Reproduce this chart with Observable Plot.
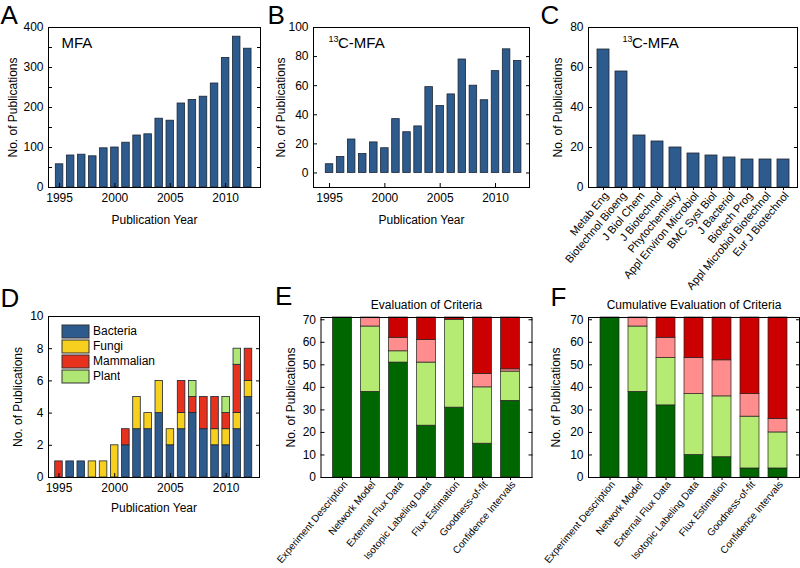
<!DOCTYPE html>
<html><head><meta charset="utf-8">
<script src="https://cdn.jsdelivr.net/npm/d3@7"></script>
<script src="https://cdn.jsdelivr.net/npm/@observablehq/plot@0.6"></script>
<style>
body{margin:0;background:#fff;}
#root{position:relative;width:800px;height:568px;overflow:hidden;font-family:Arial,"Liberation Sans",sans-serif;}
#root > *{position:absolute;}
.legd-swatch{padding-bottom:2px !important;line-height:13px !important;margin:0 !important;}
.legd-swatch > svg{margin-right:4px !important;}
.legd-swatch svg rect{stroke:#333;stroke-width:1px;}
</style></head><body><div id="root"></div>
<script>
// ---- data ----
const years = [1995,1996,1997,1998,1999,2000,2001,2002,2003,2004,2005,2006,2007,2008,2009,2010,2011,2012];
const yearTicks = [1995,2000,2005,2010];
const mfaCounts = [58,80,82,78,98,100,112,130,133,172,167,210,219,227,260,324,377,347];
const c13Counts = [6,11,23,13,21,17,37,28,32,59,46,54,78,60,50,70,85,77];
const journals = ["Metab Eng","Biotechnol Bioeng","J Biol Chem","J Biotechnol","Phytochemistry","Appl Environ Microbiol","BMC Syst Biol","J Bacteriol","Biotech Prog","Appl Microbiol Biotechnol","Eur J Biotechnol"];
const journalCounts = [69,58,26,23,20,17,16,15,14,14,14];
const organisms = ["Bacteria","Fungi","Mammalian","Plant"];
const bacteria  = [0,1,1,0,0,0,2,3,3,4,2,3,4,3,2,2,3,5];
const fungi     = [0,0,0,1,1,2,0,2,1,2,1,1,0,0,1,1,1,1];
const mammalian = [1,0,0,0,0,0,1,0,0,0,0,2,1,2,2,1,3,2];
const plant     = [0,0,0,0,0,0,0,0,0,0,0,0,1,0,0,1,1,0];
const criteria = ["Experiment Description","Network Model","External Flux Data","Isotopic Labeling Data","Flux Estimation","Goodness-of-fit","Confidence Intervals"];
const levels = ["Level 1","Level 2","Level 3","Level 4"];
const evalL1 = [71,38,51,23,31,15,34];
const evalL2 = [0,29,5,28,39,25,13];
const evalL3 = [0,4,6,10,0,6,1];
const evalL4 = [0,0,9,10,1,25,23];
const cumL1 = [71,38,32,10,9,4,4];
const cumL2 = [0,29,21,27,27,23,16];
const cumL3 = [0,4,9,16,16,10,6];
const cumL4 = [0,0,9,18,19,34,45];

// ---- styles ----
const BLUE = "#2e5b8d", EDGE = "#1c2633";
const orgColors = ["#2e5b8d","#f7cf1f","#e6311d","#b0e673"];
const levelColors = ["#006600","#b5eb72","#ff8d8d","#cc0000"];
const baseStyle = {fontFamily:"Arial, 'Liberation Sans', sans-serif", fontSize:"12px", color:"#000", background:"transparent", overflow:"visible"};
const root = document.getElementById("root");
function place(node, left, top){ node.style.left = left+"px"; node.style.top = top+"px"; root.append(node); }

function yAxisMarks(major, all, offset){
  return [
    Plot.axisY({anchor:"left", ticks:major, tickSize:0, tickPadding:5, label:null, tickFormat:d=>String(d)}),
    Plot.axisY({anchor:"left", ticks:all, tickSize:4, dx:4, tickFormat:()=>"", label:null}),
    Plot.axisY({anchor:"right", ticks:all, tickSize:4, dx:-4, tickFormat:()=>"", label:null}),
    Plot.text(["No. of Publications"], {text:d=>d, frameAnchor:"left", dx:offset, rotate:-90, lineAnchor:"middle", textAnchor:"middle", fontSize:12})
  ];
}
function yearAxisMarks(offset){
  return [
    Plot.axisX({anchor:"bottom", ticks:yearTicks, tickSize:0, tickPadding:6, tickFormat:d=>String(d), label:null}),
    Plot.axisX({anchor:"bottom", ticks:yearTicks, tickSize:4, dy:-4, tickFormat:()=>"", label:null}),
    Plot.text(["Publication Year"], {text:d=>d, frameAnchor:"bottom", dy:offset, lineAnchor:"middle", textAnchor:"middle", fontSize:12})
  ];
}
function catAxisMarks(fontSize, pad){
  return [
    Plot.axisX({anchor:"bottom", tickSize:3, tickFormat:()=>"", label:null}),
    Plot.axisX({anchor:"bottom", tickSize:0, tickPadding:pad, dx:3, tickRotate:-50, fontSize, label:null})
  ];
}
function letter(ch, dx, dy){
  return Plot.text([ch], {text:d=>d, frameAnchor:"top-left", dx, dy, textAnchor:"start", lineAnchor:"top", fontSize:26});
}
function c13Label(dx){
  return [
    Plot.text(["13"], {text:d=>d, frameAnchor:"top-left", dx, dy:8, textAnchor:"start", lineAnchor:"top", fontSize:9}),
    Plot.text(["C-MFA"], {text:d=>d, frameAnchor:"top-left", dx:dx+9.5, dy:10, textAnchor:"start", lineAnchor:"top", fontSize:15})
  ];
}

// ---- A ----
const dataA = years.map((year,i)=>({year, n:mfaCounts[i]}));
place(Plot.plot({
  width:265, height:250, marginLeft:48, marginRight:5, marginTop:27, marginBottom:63,
  style:baseStyle,
  x:{domain:[1994.0, 2013.15]},
  y:{domain:[0,400]},
  marks:[
    Plot.rectY(dataA, {x1:d=>d.year-0.34, x2:d=>d.year+0.34, y:"n", fill:BLUE, stroke:EDGE, strokeWidth:0.8}),
    ...yAxisMarks([0,100,200,300,400],[0,50,100,150,200,250,300,350,400],-35),
    ...yearAxisMarks(33),
    Plot.frame({stroke:"#000"}),
    letter("A",-48,-21.5),
    Plot.text(["MFA"], {text:d=>d, frameAnchor:"top-left", dx:13, dy:10, textAnchor:"start", lineAnchor:"top", fontSize:15})
  ]
}), 0, 0);

// ---- B ----
const dataB = years.map((year,i)=>({year, n:c13Counts[i]}));
place(Plot.plot({
  width:270, height:250, marginLeft:48, marginRight:6, marginTop:27, marginBottom:63,
  style:baseStyle,
  x:{domain:[1993.55, 2013.07]},
  y:{domain:[-10,100]},
  marks:[
    Plot.rectY(dataB, {x1:d=>d.year-0.34, x2:d=>d.year+0.34, y:"n", fill:BLUE, stroke:EDGE, strokeWidth:0.8}),
    ...yAxisMarks([0,20,40,60,80,100],[0,20,40,60,80,100],-32),
    ...yearAxisMarks(33),
    Plot.frame({stroke:"#000"}),
    letter("B",-46,-21.5),
    ...c13Label(15)
  ]
}), 265, 0);

// ---- C ----
const dataC = journals.map((journal,i)=>({journal, n:journalCounts[i]}));
place(Plot.plot({
  width:265, height:290, marginLeft:53, marginRight:3, marginTop:27, marginBottom:103,
  style:baseStyle,
  x:{domain:journals, paddingInner:0.36, paddingOuter:0.37},
  y:{domain:[0,80]},
  marks:[
    Plot.barY(dataC, {x:"journal", y:"n", fill:BLUE, stroke:EDGE, strokeWidth:0.8}),
    ...yAxisMarks([0,20,40,60,80],[0,20,40,60,80],-30),
    ...catAxisMarks(11, 6),
    Plot.frame({stroke:"#000"}),
    letter("C",-48,-21.5),
    ...c13Label(34)
  ]
}), 535, 0);

// ---- D ----
const orgSeries = [bacteria, fungi, mammalian, plant];
const dataD = [];
years.forEach((year,i)=>organisms.forEach((org,k)=>{ if (orgSeries[k][i] > 0) dataD.push({year, org, n:orgSeries[k][i]}); }));
place(Plot.plot({
  width:265, height:318, marginLeft:48, marginRight:6, marginTop:66, marginBottom:91,
  style:baseStyle,
  x:{domain:[1994.06, 2012.99]},
  y:{domain:[0,10]},
  color:{domain:organisms, range:orgColors},
  marks:[
    Plot.rectY(dataD, {x1:d=>d.year-0.34, x2:d=>d.year+0.34, y:"n", fill:"org", stroke:EDGE, strokeWidth:0.8}),
    ...yAxisMarks([0,2,4,6,8,10],[0,2,4,6,8,10],-30),
    ...yearAxisMarks(31),
    Plot.frame({stroke:"#000"}),
    letter("D",-48,-27.5)
  ]
}), 0, 250);
const leg = Plot.legend({color:{type:"ordinal", domain:organisms, range:orgColors}, legend:"swatches", columns:1, swatchWidth:27, swatchHeight:13, className:"legd", style:{fontFamily:"Arial, 'Liberation Sans', sans-serif", fontSize:"12px", color:"#000"}});
place(leg, 62, 325);

// ---- E & F ----
function stackData(s1,s2,s3,s4){
  const series = [s1,s2,s3,s4];
  const out = [];
  criteria.forEach((crit,i)=>levels.forEach((lev,k)=>{ if (series[k][i] > 0) out.push({crit, lev, n:series[k][i]}); }));
  return out;
}
function evalPlot(data, title, letterCh, ldx, ldy, yoff){
  return Plot.plot({
    width:265, height:318, marginLeft:53, marginRight:1, marginTop:67, marginBottom:91,
    style:baseStyle,
    x:{domain:criteria, paddingInner:0.33, paddingOuter:0.39},
    y:{domain:[0,71]},
    color:{domain:levels, range:levelColors},
    marks:[
      Plot.barY(data, {x:"crit", y:"n", fill:"lev", stroke:"#222", strokeWidth:0.7}),
      ...yAxisMarks([0,10,20,30,40,50,60,70],[0,10,20,30,40,50,60,70],yoff),
      ...catAxisMarks(10, 5),
      Plot.frame({stroke:"#000"}),
      Plot.text([title], {text:d=>d, frameAnchor:"top", dy:-12, lineAnchor:"middle", textAnchor:"middle", fontSize:12}),
      letter(letterCh, ldx, ldy)
    ]
  });
}
const pE = evalPlot(stackData(evalL1,evalL2,evalL3,evalL4), "Evaluation of Criteria", "E", -46, -30.5, -30);
pE.setAttribute("width", 270);
place(pE, 265, 250);
place(evalPlot(stackData(cumL1,cumL2,cumL3,cumL4), "Cumulative Evaluation of Criteria", "F", -38, -30, -32), 535, 250);
</script></body></html>
